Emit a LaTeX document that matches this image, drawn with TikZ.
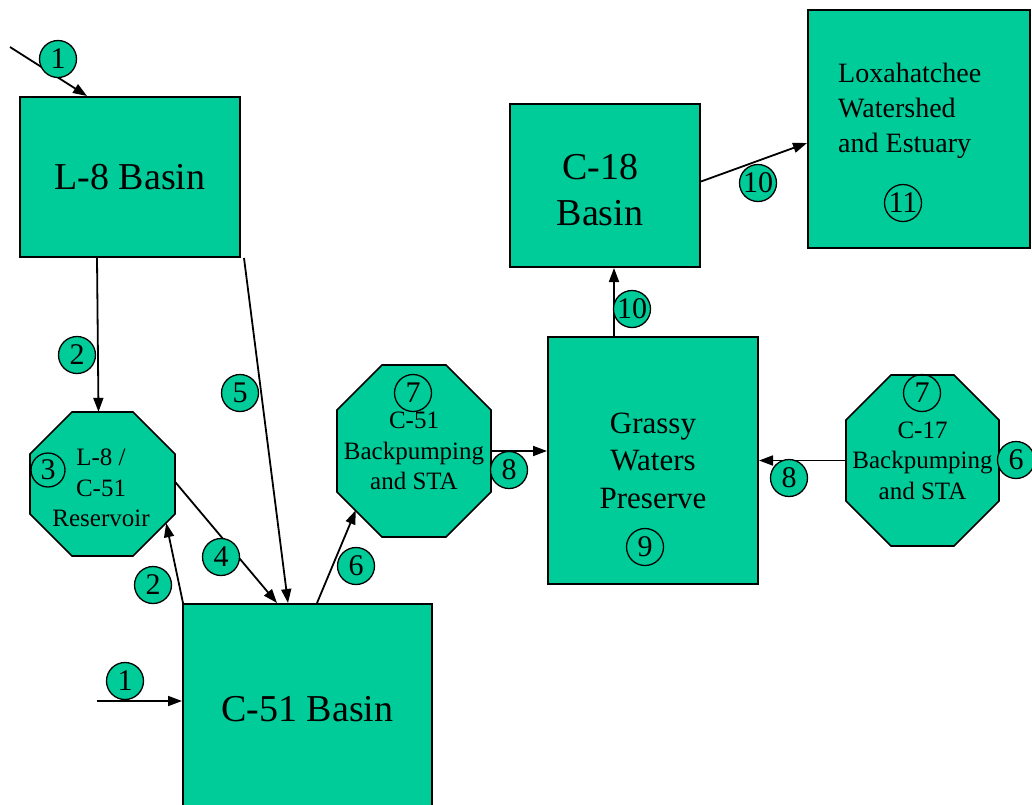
\documentclass[tikz,border=0pt]{standalone}
\usepackage{fontspec}
\setmainfont{Liberation Serif}
\usetikzlibrary{arrows.meta}
\definecolor{basingreen}{RGB}{0,204,153}
\tikzset{
  basin/.style={rectangle, draw=black, line width=2pt, fill=basingreen, inner sep=0pt, align=center},
  octagon/.style={draw=black, line width=1.6pt, fill=basingreen},
  station/.style={rectangle, inner sep=0pt, align=center, font=\fontsize{25}{30.5}\selectfont},
  flownum/.style={circle, draw=black, line width=1.3pt, fill=basingreen, inner sep=0pt,
    minimum size=37pt, font=\fontsize{30}{30}\selectfont},
  sitenum/.style={flownum, fill=none},
  flow/.style={-{Triangle[length=14pt,width=10pt]}, line width=1.8pt},
}
\begin{document}
\begin{tikzpicture}[x=1pt,y=-1pt]
        \useasboundingbox (0,0) rectangle (1032,804);

        % Basins and storage
        \node[basin, minimum width=220pt, minimum height=160pt, font=\fontsize{38}{44}\selectfont] (l8) at (130,177) {L-8 Basin};
        \node[basin, minimum width=249pt, minimum height=211pt, font=\fontsize{38}{44}\selectfont] (c51) at (307.5,709.5) {C-51 Basin};
        \node[basin, minimum width=190pt, minimum height=163pt] (c18) at (605,185.5) {};
        \node[align=center, inner sep=0pt, font=\fontsize{38}{46}\selectfont] (c18text) at (600,190) {C-18\\Basin};
        \node[basin, minimum width=210pt, minimum height=247pt, font=\fontsize{31}{37.5}\selectfont] (grassy) at (653,460.5) {Grassy\\Waters\\Preserve};
        \node[basin, minimum width=222pt, minimum height=238pt] (lox) at (919,129) {};
        \node[anchor=west, align=left, inner sep=0pt, font=\fontsize{28}{35}\selectfont] (loxtext) at (838,111) {Loxahatchee\\Watershed\\and Estuary};

        % Reservoir and pumping stations
        \filldraw[octagon] (72,412) -- (133,412) -- (175,454) -- (175,514) -- (133,556) -- (72,556) -- (30,514) -- (30,454) -- cycle;
        \filldraw[octagon] (382,365) -- (446,365) -- (491,410) -- (491,492) -- (446,537) -- (382,537) -- (337,492) -- (337,410) -- cycle;
        \filldraw[octagon] (891,375) -- (954,375) -- (999,420) -- (999,501) -- (954,546) -- (891,546) -- (846,501) -- (846,420) -- cycle;
        \node[station, minimum width=145pt, minimum height=144pt] (res) at (102.5,484) {};
        \node[station] (restext) at (101,488) {L-8 /\\C-51\\Reservoir};
        \node[station, minimum width=154pt, minimum height=172pt] (bp51) at (414,451) {C-51\\Backpumping\\and STA};
        \node[station, minimum width=153pt, minimum height=171pt] (bp17) at (922.5,460.5) {C-17\\Backpumping\\and STA};

        % Inflows
        \coordinate (in1) at (10,47);
        \coordinate (in2) at (97,701);

        % Flows
        \draw[flow] (in1) -- ([xshift=68pt]l8.north west);
        \draw[flow] ([xshift=78pt]l8.south west) -- ([xshift=-4pt]res.north);
        \draw[flow] ([xshift=1pt]c51.north west) -- ([shift={(-9pt,33pt)}]res.south east);
        \draw[flow] ([yshift=2pt]res.east) -- ([xshift=95pt]c51.north west);
        \draw[flow] ([xshift=3pt]l8.south east) -- ([xshift=106pt]c51.north west);
        \draw[flow] ([xshift=135pt]c51.north west) -- ([shift={(19pt,27pt)}]bp51.south west);
        \draw[flow] (bp51.east) -- (bp51.east -| grassy.west);
        \draw[flow] (bp17.west) -- (grassy.east);
        \draw[flow] ([xshift=67pt]grassy.north west) -- ([xshift=67pt]grassy.north west |- c18.south);
        \draw[flow] ([yshift=4pt]c18.east) -- ([yshift=-14pt]lox.west);
        \draw[flow] (in2) -- (in2 -| c51.west);

        % Flow numbers
        \node[flownum] (n1a) at (58,59) {1};
        \node[flownum] (n2a) at (77,355) {2};
        \node[flownum] (n5) at (240,393) {5};
        \node[flownum] (n2b) at (153,585) {2};
        \node[flownum] (n4) at (221,557) {4};
        \node[flownum] (n6a) at (356,566) {6};
        \node[flownum] (n8a) at (509,470) {8};
        \node[flownum] (n1b) at (125,681) {1};
        \node[flownum] (n10a) at (632,309) {10};
        \node[flownum] (n10b) at (758,183) {10};
        \node[flownum] (n6b) at (1016,460) {6};
        \node[flownum] (n8b) at (789,478) {8};

        % Site numbers
        \node[sitenum, minimum size=34pt] (n3) at (48,470) {3};
        \node[sitenum] (n7a) at (413,393) {7};
        \node[sitenum] (n7b) at (922,393) {7};
        \node[sitenum] (n9) at (645,547) {9};
        \node[sitenum] (n11) at (903,203) {11};
\end{tikzpicture}
\end{document}
